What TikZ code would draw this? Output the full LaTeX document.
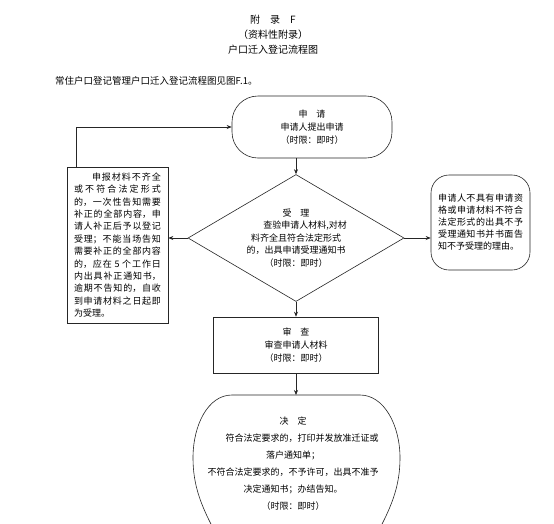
\documentclass[tikz,border=0pt]{standalone}
\usepackage{fontspec}
\setmainfont{Noto Sans CJK SC}
\usepackage{tikz}
\usetikzlibrary{shapes.geometric, arrows.meta, positioning}
\XeTeXlinebreaklocale "zh"
\XeTeXlinebreakskip = 0pt plus 2pt
\tikzstyle{box} = [draw=black!85, line width=0.6pt, align=center, font=\fontsize{9}{13}\selectfont, inner sep=2pt]
\tikzstyle{arrow} = [line width=0.6pt, draw=black!85, -{Stealth[length=5pt,width=4pt]}]

\begin{document}
\begin{tikzpicture}[x=1pt, y=-1pt]
\useasboundingbox[fill=white] (0,0) rectangle (554,523);
\clip (0,0) rectangle (554,523);

\node[align=center, font=\fontsize{10}{15}\selectfont] (title) at (273,35)
{附\quad 录\quad F\\（资料性附录）\\户口迁入登记流程图};
\node[anchor=west, font=\fontsize{9.5}{12}\selectfont, inner sep=0pt] (intro) at (55,81)
{常住户口登记管理户口迁入登记流程图见图F.1。};

\node[box, rounded corners=26pt, minimum width=160pt, minimum height=62pt] (apply) at (312,127)
{申\quad 请\\申请人提出申请\\（时限：即时）};

\node[box, diamond, aspect=1.7, minimum width=216pt, minimum height=127pt, inner sep=0pt,
font=\fontsize{9}{12.5}\selectfont] (accept) at (296,238)
{受\quad 理\\\hspace*{2em}查验申请人材料,对材\\料齐全且符合法定形式\\的，出具申请受理通知书\\（时限：即时）};

\node[box, align=justify, text width=87pt, minimum width=101pt, minimum height=156pt,
font=\fontsize{9}{12.4}\selectfont] (supplement) at (117.5,245)
{\tolerance=9999 \hspace*{2em}申报材料不齐全或不符合法定形式的，一次性告知需要补正的全部内容，申请人补正后予以登记受理；不能当场告知需要补正的全部内容的，应在 5 个工作日内出具补正通知书，逾期不告知的，自收到申请材料之日起即为受理。};

\node[box, align=justify, text width=85pt, rounded corners=18pt, minimum width=99pt, minimum height=95pt,
font=\fontsize{9}{12}\selectfont] (refuse) at (480.5,222.5)
{\tolerance=9999 申请人不具有申请资格或申请材料不符合法定形式的出具不予受理通知书并书面告知不予受理的理由。};

\node[box, minimum width=165pt, minimum height=56pt] (review) at (296,345)
{审\quad 查\\审查申请人材料\\（时限：即时）};

% decision shape, cut off by the page bottom
\coordinate (decidetop) at (296,395);
\draw[line width=0.6pt, draw=black!85] (213,528) .. controls (201,505) and (193,485) .. (193,458)
  .. controls (193,425) and (208,395) .. (232,395) -- (360,395)
  .. controls (384,395) and (400,425) .. (400,458)
  .. controls (400,485) and (392,505) .. (380,528);
\node[align=center, font=\fontsize{9}{17}\selectfont] (decide) at (293,464)
{决\quad 定\\\hspace*{2em}符合法定要求的，打印并发放准迁证或\\落户通知单；\\不符合法定要求的，不予许可，出具不准予\\决定通知书；办结告知。\\（时限：即时）};

\draw[arrow] ([xshift=10pt]supplement.north west) |- (apply.west);
\draw[arrow] (apply.south -| accept.north) -- (accept.north);
\draw[arrow] (accept.west) -- (accept.west -| supplement.east);
\draw[arrow] (accept.east) -- (accept.east -| refuse.west);
\draw[arrow] (accept.south) -- (review.north);
\draw[arrow] (review.south) -- (decidetop);
\end{tikzpicture}
\end{document}
